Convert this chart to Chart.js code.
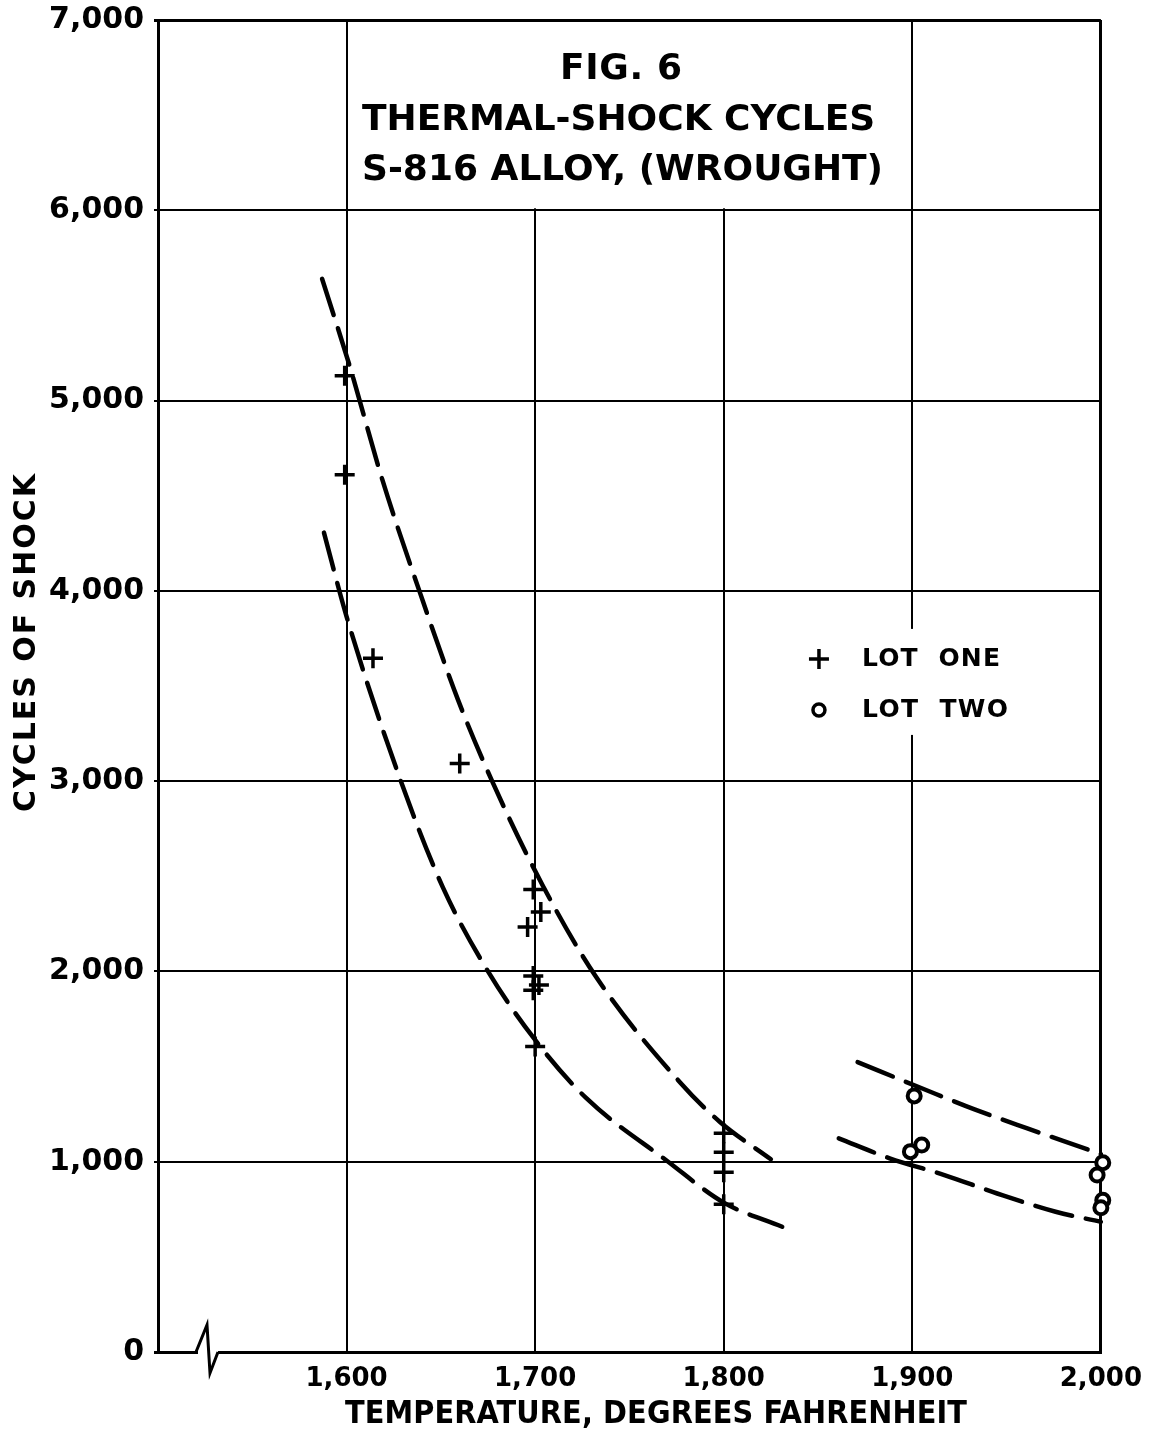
<!DOCTYPE html>
<html>
<head>
<meta charset="utf-8">
<script src="https://cdn.jsdelivr.net/npm/chart.js@4/dist/chart.umd.min.js"></script>
<style>
  html, body { margin: 0; padding: 0; background: #fff; }
  #wrap { width: 1154px; height: 1439px; position: relative; }
</style>
</head>
<body>
<div id="wrap"><canvas id="shockChart"></canvas></div>
<script>
const lotOneTemp   = [1599, 1599, 1614, 1660, 1699, 1703, 1696, 1699, 1702, 1699, 1700, 1800, 1800, 1800, 1800];
const lotOneCycles = [5130, 4610, 3646, 3093, 2430, 2312, 2234, 1976, 1929, 1901, 1606, 1150, 1050, 944, 776];
const lotTwoTemp   = [1901, 1899, 1905, 2001, 1998, 2001, 2000];
const lotTwoCycles = [1346, 1053, 1088, 995, 930, 798, 758];

// Hand-drawn dashed bounding curves
const upperOneTemp   = [1587, 1602, 1619, 1639, 1659, 1677, 1704, 1732, 1777, 1798, 1825];
const upperOneCycles = [5640, 5170, 4583, 3988, 3430, 3004, 2452, 1976, 1415, 1209, 1013];
const lowerOneTemp   = [1588, 1600, 1628, 1651, 1675, 1700, 1727, 1770, 1800, 1831];
const lowerOneCycles = [4306, 3865, 3022, 2443, 2000, 1640, 1335, 1004, 785, 658];
const upperTwoTemp   = [1871, 1905, 1933, 1961, 1994, 2000];
const upperTwoCycles = [1523, 1386, 1275, 1175, 1061, 1040];
const lowerTwoTemp   = [1861, 1888, 1917, 1945, 1976, 2000];
const lowerTwoCycles = [1123, 1018, 930, 833, 737, 684];

const titleLines = ['FIG. 6', 'THERMAL-SHOCK CYCLES', 'S-816 ALLOY, (WROUGHT)'];
const legendLabels = ['LOT ONE', 'LOT TWO'];
const xTitle = 'TEMPERATURE, DEGREES FAHRENHEIT';
const yTitle = 'CYCLES OF SHOCK';

const INK = '#000';
const FONT = "'DejaVu Sans', sans-serif";
const NARROW = "'DejaVu Sans Condensed', 'Liberation Sans Narrow', 'DejaVu Sans', sans-serif";

const pts = (xs, ys) => xs.map((x, i) => ({ x, y: ys[i] }));

function curve(xs, ys) {
  return {
    type: 'line',
    data: pts(xs, ys),
    borderColor: INK,
    borderWidth: 4.5,
    borderDash: [38, 14],
    borderCapStyle: 'round',
    cubicInterpolationMode: 'monotone',
    pointRadius: 0,
    fill: false,
    clip: false
  };
}

// spread letters so a line of text fills a given width
function spacedText(ctx, text, x, y, width) {
  ctx.letterSpacing = '0px';
  const w = ctx.measureText(text).width;
  const gap = Math.max(0, (width - w) / (text.length - 1));
  ctx.letterSpacing = gap + 'px';
  ctx.textAlign = 'left';
  ctx.fillText(text, x - width / 2, y);
  ctx.letterSpacing = '0px';
}

// Title box, legend, axis titles and the axis break
const annotations = {
  id: 'annotations',
  beforeDatasetsDraw(chart) {
    const { ctx, scales: { x, y } } = chart;
    ctx.save();
    ctx.fillStyle = '#fff';
    // title cell hides the 1,800 gridline
    const l = x.getPixelForValue(1600) + 2, r = x.getPixelForValue(1900) - 2;
    const t = y.getPixelForValue(7000) + 2, b = y.getPixelForValue(6000) - 2;
    ctx.fillRect(l, t, r - l, b - t);
    // legend background
    ctx.fillRect(x.getPixelForValue(1842), y.getPixelForValue(3800), 220, 106);

    ctx.fillStyle = INK;
    ctx.textBaseline = 'middle';
    ctx.font = `bold 36px ${FONT}`;
    spacedText(ctx, titleLines[0], 621, t + 48, 122);
    spacedText(ctx, titleLines[1], 614, t + 99, 504);
    spacedText(ctx, titleLines[2], 621, t + 149, 518);

    // legend
    ctx.font = `bold 25px ${FONT}`;
    const lx = x.getPixelForValue(1850.5);
    const y1 = y.getPixelForValue(3642), y2 = y.getPixelForValue(3374);
    spacedText(ctx, legendLabels[0].replace(' ', '  '), 931, y1 + 1, 138);
    spacedText(ctx, legendLabels[1].replace(' ', '  '), 935, y2 + 1, 146);
    ctx.lineWidth = 3.5;
    ctx.strokeStyle = INK;
    ctx.beginPath();
    ctx.moveTo(lx - 10, y1); ctx.lineTo(lx + 10, y1);
    ctx.moveTo(lx, y1 - 10); ctx.lineTo(lx, y1 + 10);
    ctx.stroke();
    ctx.beginPath();
    ctx.arc(lx, y2, 6, 0, Math.PI * 2);
    ctx.stroke();
    ctx.restore();
  },
  afterDraw(chart) {
    const { ctx, scales: { x, y } } = chart;
    const base = y.getPixelForValue(0);
    const x0 = x.getPixelForValue(1500);
    ctx.save();
    ctx.fillStyle = '#fff';
    ctx.fillRect(x0 + 40, base - 3, 20, 6);
    ctx.strokeStyle = INK;
    ctx.lineWidth = 3;
    ctx.beginPath();
    ctx.moveTo(x0 + 38, base);
    ctx.lineTo(x0 + 49, base - 27);
    ctx.lineTo(x0 + 52, base + 21);
    ctx.lineTo(x0 + 60, base);
    ctx.stroke();

    // axis titles
    ctx.fillStyle = INK;
    ctx.textBaseline = 'middle';
    ctx.font = `bold 32px ${NARROW}`;
    spacedText(ctx, xTitle, 656, 1415, 622);
    ctx.translate(27, 643);
    ctx.rotate(-Math.PI / 2);
    ctx.font = `bold 30px ${FONT}`;
    spacedText(ctx, yTitle, 0, 0, 338);
    ctx.restore();
  }
};

new Chart(document.getElementById('shockChart'), {
  type: 'scatter',
  data: {
    datasets: [
      {
        label: legendLabels[0],
        data: pts(lotOneTemp, lotOneCycles),
        pointStyle: 'cross',
        pointRadius: 10,
        pointBorderWidth: 3.5,
        borderColor: INK,
        backgroundColor: INK,
        clip: false
      },
      {
        label: legendLabels[1],
        data: pts(lotTwoTemp, lotTwoCycles),
        pointStyle: 'circle',
        pointRadius: 6.5,
        pointBorderWidth: 4,
        borderColor: INK,
        backgroundColor: '#fff',
        clip: false
      },
      curve(upperOneTemp, upperOneCycles),
      curve(lowerOneTemp, lowerOneCycles),
      curve(upperTwoTemp, upperTwoCycles),
      curve(lowerTwoTemp, lowerTwoCycles)
    ]
  },
  options: {
    responsive: true,
    maintainAspectRatio: false,
    animation: false,
    layout: { padding: { left: 0, top: 20, right: 52, bottom: 0 } },
    plugins: {
      legend: { display: false },
      tooltip: { enabled: false }
    },
    scales: {
      x: {
        type: 'linear',
        min: 1500,
        max: 2000,
        afterFit: s => { s.height = 87; },
        ticks: {
          stepSize: 100,
          color: INK,
          padding: 12,
          font: { family: FONT, size: 26, weight: 'bold' },
          callback: v => (v === 1500 ? '' : v.toLocaleString('en-US'))
        },
        grid: {
          color: INK,
          lineWidth: c => (c.tick && (c.tick.value === 1500 || c.tick.value === 2000) ? 3 : 2),
          drawTicks: false
        },
        border: { display: true, color: INK, width: 3 }
      },
      y: {
        min: 0,
        max: 7000,
        afterFit: s => { s.width = 158; s.paddingTop = 0; s.paddingBottom = 0; },
        ticks: {
          stepSize: 1000,
          color: INK,
          padding: 10,
          font: { family: FONT, size: 30, weight: 'bold' },
          callback: v => (v === 0 ? '0' : v.toLocaleString('en-US'))
        },
        grid: {
          color: INK,
          lineWidth: c => (c.tick && (c.tick.value === 0 || c.tick.value === 7000) ? 3 : 2),
          tickLength: 4
        },
        border: { display: true, color: INK, width: 3 }
      }
    }
  },
  plugins: [annotations]
});
</script>
</body>
</html>
